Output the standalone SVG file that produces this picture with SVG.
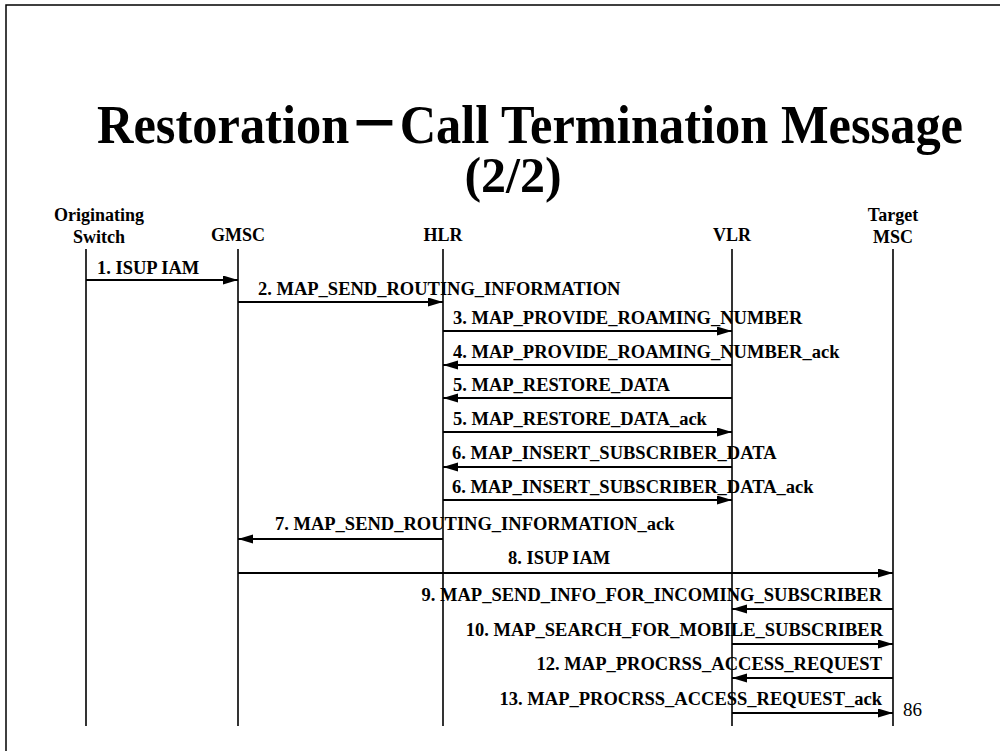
<svg xmlns="http://www.w3.org/2000/svg" width="1000" height="751" viewBox="0 0 1000 751">
<style>
.title{font-family:"Liberation Serif","Times New Roman","Noto Sans CJK SC",serif;font-weight:bold;fill:#000}
.ent{font-family:"Liberation Serif","Times New Roman",serif;font-weight:bold;font-size:18px;fill:#000}
.msg{font-family:"Liberation Serif","Times New Roman",serif;font-weight:bold;font-size:18.5px;fill:#000}
.pg{font-family:"Liberation Serif","Times New Roman",serif;font-size:19px;fill:#000}
.life{stroke:#000;stroke-width:1.6;fill:none}
.arr{stroke:#000;stroke-width:2;fill:none;marker-end:url(#ah)}
</style>
<defs>
<marker id="ah" markerUnits="userSpaceOnUse" markerWidth="16" markerHeight="10" refX="15" refY="4.5" orient="auto">
<path d="M0,0 L15,4.5 L0,9 z" fill="#000"/>
</marker>
</defs>
<rect width="1000" height="751" fill="#fff"/>
<path d="M6,751 V5 H1000" stroke="#000" stroke-width="1.5" fill="none"/>
<g id="title">
<text class="title" x="97" y="143" font-size="55" textLength="866" lengthAdjust="spacingAndGlyphs">Restoration－Call Termination Message</text>
<text class="title" x="513" y="192" font-size="50" text-anchor="middle">(2/2)</text>
</g>
<g id="orig">
<text class="ent" x="99" y="221" text-anchor="middle">Originating</text>
<text class="ent" x="99" y="243" text-anchor="middle">Switch</text>
<line class="life" x1="86" y1="249" x2="86" y2="726"/>
</g>
<g id="gmsc">
<text class="ent" x="238" y="241" text-anchor="middle">GMSC</text>
<line class="life" x1="238" y1="249" x2="238" y2="726"/>
</g>
<g id="hlr">
<text class="ent" x="443" y="241" text-anchor="middle">HLR</text>
<line class="life" x1="443" y1="249" x2="443" y2="726"/>
</g>
<g id="vlr">
<text class="ent" x="732" y="241" text-anchor="middle">VLR</text>
<line class="life" x1="732" y1="249" x2="732" y2="726"/>
</g>
<g id="target">
<text class="ent" x="893" y="221" text-anchor="middle">Target</text>
<text class="ent" x="893" y="243" text-anchor="middle">MSC</text>
<line class="life" x1="893" y1="249" x2="893" y2="726"/>
</g>
<g id="connectors">
<line class="arr" x1="86" y1="280" x2="238" y2="280"/>
<line class="arr" x1="238" y1="302" x2="443" y2="302"/>
<line class="arr" x1="443" y1="331" x2="732" y2="331"/>
<line class="arr" x1="732" y1="365" x2="443" y2="365"/>
<line class="arr" x1="732" y1="398" x2="443" y2="398"/>
<line class="arr" x1="443" y1="432" x2="732" y2="432"/>
<line class="arr" x1="732" y1="467" x2="443" y2="467"/>
<line class="arr" x1="443" y1="500" x2="732" y2="500"/>
<line class="arr" x1="443" y1="539" x2="238" y2="539"/>
<line class="arr" x1="238" y1="573" x2="893" y2="573"/>
<line class="arr" x1="893" y1="609" x2="732" y2="609"/>
<line class="arr" x1="732" y1="644" x2="893" y2="644"/>
<line class="arr" x1="893" y1="678" x2="732" y2="678"/>
<line class="arr" x1="732" y1="713" x2="893" y2="713"/>
</g>
<g id="labels">
<text class="msg" x="97" y="274">1. ISUP IAM</text>
<text class="msg" x="258" y="295">2. MAP_SEND_ROUTING_INFORMATION</text>
<text class="msg" x="453" y="324">3. MAP_PROVIDE_ROAMING_NUMBER</text>
<text class="msg" x="453" y="358">4. MAP_PROVIDE_ROAMING_NUMBER_ack</text>
<text class="msg" x="453" y="391">5. MAP_RESTORE_DATA</text>
<text class="msg" x="453" y="425">5. MAP_RESTORE_DATA_ack</text>
<text class="msg" x="452" y="459">6. MAP_INSERT_SUBSCRIBER_DATA</text>
<text class="msg" x="452" y="493">6. MAP_INSERT_SUBSCRIBER_DATA_ack</text>
<text class="msg" x="275" y="530">7. MAP_SEND_ROUTING_INFORMATION_ack</text>
<text class="msg" x="508" y="564">8. ISUP IAM</text>
<text class="msg" x="882" y="601" text-anchor="end">9. MAP_SEND_INFO_FOR_INCOMING_SUBSCRIBER</text>
<text class="msg" x="883" y="636" text-anchor="end">10. MAP_SEARCH_FOR_MOBILE_SUBSCRIBER</text>
<text class="msg" x="882" y="670" text-anchor="end">12. MAP_PROCRSS_ACCESS_REQUEST</text>
<text class="msg" x="882" y="705" text-anchor="end">13. MAP_PROCRSS_ACCESS_REQUEST_ack</text>
</g>
<text class="pg" x="903" y="716">86</text>
</svg>
